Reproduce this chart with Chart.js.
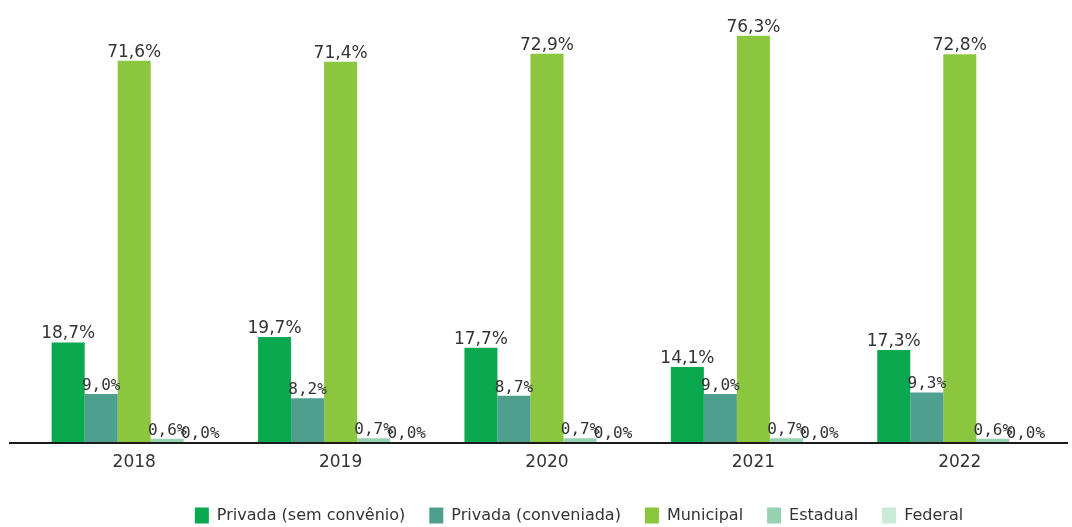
<!DOCTYPE html>
<html lang="pt-BR">
<head>
<meta charset="utf-8">
<title>Matrículas por dependência administrativa</title>
<script src="https://cdn.jsdelivr.net/npm/chart.js@4.4.1/dist/chart.umd.min.js"></script>
<style>
  html, body { margin: 0; padding: 0; background: #ffffff; }
  #wrap { width: 1072px; height: 527px; position: relative; }
</style>
</head>
<body>
<div id="wrap"><canvas id="chart"></canvas></div>
<script>
// Anos
const years = ['2018', '2019', '2020', '2021', '2022'];

// Participação (%) por dependência administrativa
const privadaSemConvenio = [18.7, 19.7, 17.7, 14.1, 17.3];
const privadaConveniada  = [9.0, 8.2, 8.7, 9.0, 9.3];
const municipal          = [71.6, 71.4, 72.9, 76.3, 72.8];
const estadual           = [0.6, 0.7, 0.7, 0.7, 0.6];
const federal            = [0.0, 0.0, 0.0, 0.0, 0.0];

const seriesNames = ['Privada (sem convênio)', 'Privada (conveniada)', 'Municipal', 'Estadual', 'Federal'];
const seriesColors = ['#0aa84f', '#4f9f8f', '#8cc63f', '#96d2b0', '#c8ebd7'];

const TEXT = '#333333';
const SANS = "'DejaVu Sans', Verdana, sans-serif";
const MONO = "'DejaVu Sans Mono', monospace";

const fmt = v => v.toFixed(1).replace('.', ',') + '%';

// Rótulos de valor acima de cada barra
const valueLabels = {
  id: 'valueLabels',
  afterDatasetsDraw(chart) {
    const ctx = chart.ctx;
    ctx.save();
    ctx.fillStyle = TEXT;
    ctx.textAlign = 'center';
    ctx.textBaseline = 'alphabetic';
    chart.data.datasets.forEach((ds, di) => {
      const meta = chart.getDatasetMeta(di);
      ctx.font = (di === 0 || di === 2) ? '17px ' + SANS : '16px ' + MONO;
      meta.data.forEach((bar, i) => {
        ctx.fillText(fmt(ds.data[i]), bar.x, bar.y - 4);
      });
    });
    ctx.restore();
  }
};

// Linha de base do eixo horizontal
const baseLine = {
  id: 'baseLine',
  afterDatasetsDraw(chart) {
    const ctx = chart.ctx;
    const y0 = chart.scales.y.getPixelForValue(0) + 1;
    ctx.save();
    ctx.strokeStyle = '#1a1a1a';
    ctx.lineWidth = 2;
    ctx.beginPath();
    ctx.moveTo(9, y0);
    ctx.lineTo(1068, y0);
    ctx.stroke();
    ctx.restore();
  }
};

// Posição da legenda
const legendOffset = {
  id: 'legendOffset',
  afterLayout(chart) {
    const lg = chart.legend;
    const dx = 32, dy = 1.1;
    lg.left += dx; lg.right += dx;
    lg.top += dy; lg.bottom += dy;
  }
};

const seriesData = [privadaSemConvenio, privadaConveniada, municipal, estadual, federal];

new Chart(document.getElementById('chart'), {
  type: 'bar',
  data: {
    labels: years,
    datasets: seriesData.map((d, i) => ({
      label: seriesNames[i],
      data: d,
      backgroundColor: seriesColors[i],
      borderWidth: 0,
      categoryPercentage: 0.8,
      barPercentage: 1.0
    }))
  },
  options: {
    responsive: true,
    maintainAspectRatio: false,
    animation: false,
    devicePixelRatio: 1,
    layout: { padding: { top: 16, left: 31, right: 9, bottom: -5.4 } },
    scales: {
      x: {
        grid: { display: false, drawTicks: false },
        border: { display: false },
        ticks: { color: TEXT, font: { family: SANS, size: 17 }, padding: 10 }
      },
      y: {
        display: false,
        min: 0,
        max: 80
      }
    },
    plugins: {
      legend: {
        position: 'bottom',
        labels: {
          boxWidth: 14,
          boxHeight: 16,
          padding: 24,
          color: TEXT,
          font: { family: SANS, size: 16 }
        }
      },
      tooltip: { enabled: false }
    }
  },
  plugins: [valueLabels, baseLine, legendOffset]
});
</script>
</body>
</html>
